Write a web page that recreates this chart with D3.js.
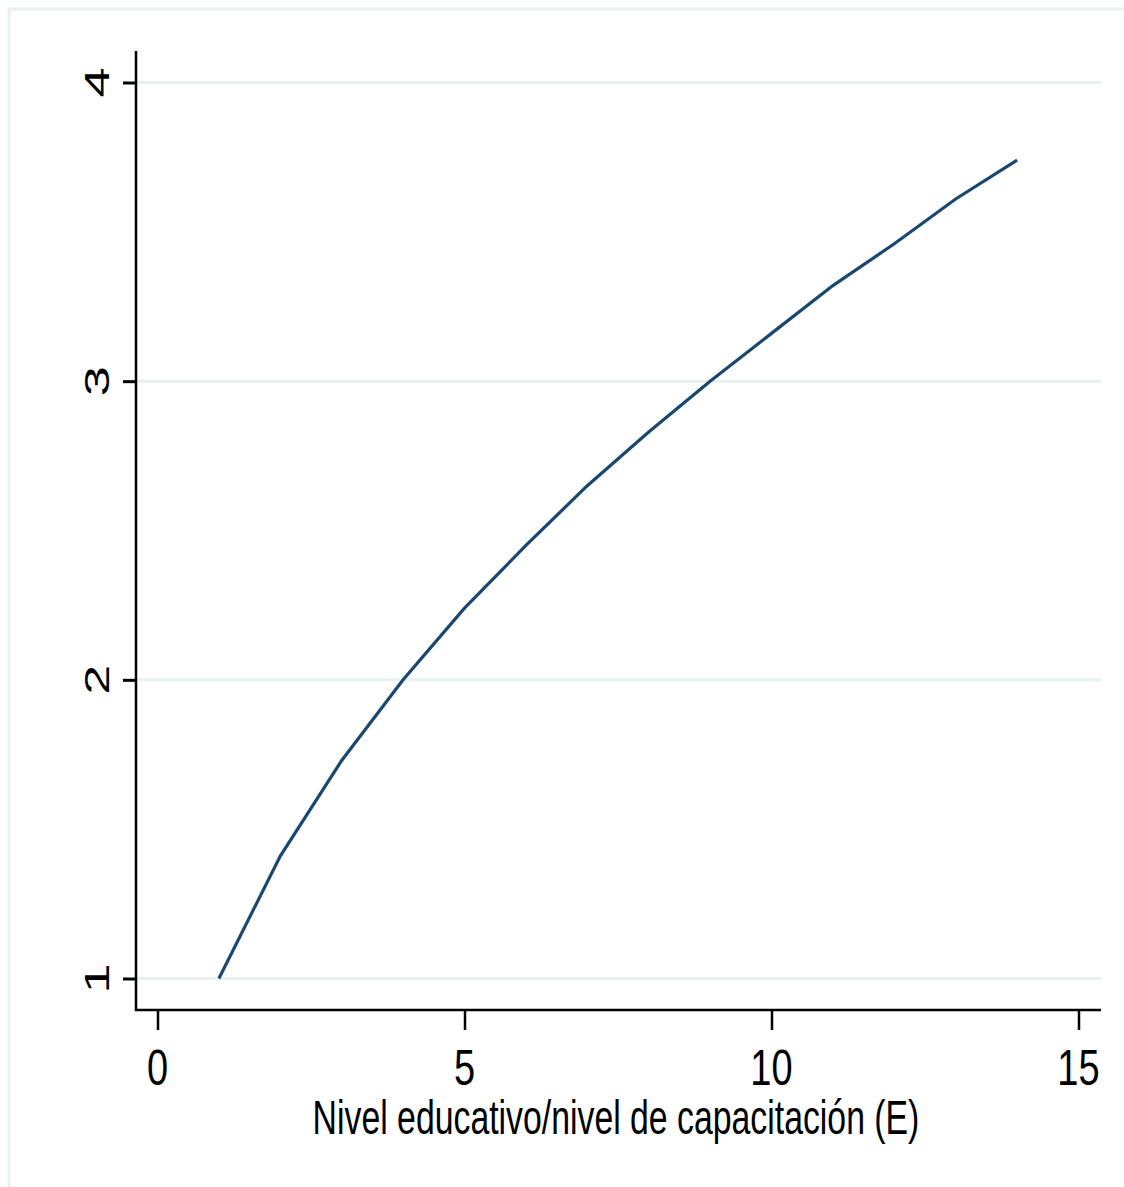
<!DOCTYPE html>
<html>
<head>
<meta charset="utf-8">
<script src="https://cdn.jsdelivr.net/npm/d3@7"></script>
<style>
  body { margin: 0; background: #fff; }
  text { font-family: "Liberation Sans", Arial, sans-serif; fill: #000; }
</style>
</head>
<body>
<div id="chart"></div>
<script>
// education level vs value
var levels = [1, 2, 3, 4, 5, 6, 7, 8, 9, 10, 11, 12, 13, 14];
var values = [1, 1.41, 1.73, 2, 2.24, 2.45, 2.65, 2.83, 3, 3.16, 3.32, 3.46, 3.61, 3.74];
var xTicks = [0, 5, 10, 15];
var yTicks = [1, 2, 3, 4];
var xTitle = "Nivel educativo/nivel de capacitación (E)";

var W = 1124, H = 1187;
var svg = d3.select("#chart").append("svg")
            .attr("width", W)
            .attr("height", H);

// outer frame (only top and left visible)
svg.append("rect")
   .attr("x", 9).attr("y", 9)
   .attr("width", 1300).attr("height", 1400)
   .attr("fill", "none")
   .attr("stroke", "#e9f0f2")
   .attr("stroke-width", 3);

var plotL = 136, plotR = 1101, plotT = 51, plotB = 1010;

var xScale = d3.scaleLinear().domain([0, 15]).range([157.5, 1078.5]);
var yScale = d3.scaleLinear().domain([1, 4]).range([978.5, 82.5]);

// grid
svg.selectAll("line.grid")
   .data(yTicks)
   .enter()
   .append("line")
   .attr("class", "grid")
   .attr("x1", plotL).attr("x2", plotR)
   .attr("y1", function(d){ return yScale(d); })
   .attr("y2", function(d){ return yScale(d); })
   .attr("stroke", "#e9f0f2")
   .attr("stroke-width", 3);

// y axis
var yAxis = d3.axisLeft(yScale).tickValues(yTicks).tickSize(13).tickFormat("");
var gy = svg.append("g")
   .attr("transform", "translate(" + plotL + ",0)")
   .call(yAxis);
gy.select(".domain").remove();
gy.selectAll(".tick line").attr("stroke", "#000").attr("stroke-width", 3);
svg.append("line")
   .attr("x1", plotL).attr("x2", plotL)
   .attr("y1", plotT).attr("y2", plotB + 1)
   .attr("stroke", "#000").attr("stroke-width", 2.5);

svg.selectAll("text.ylab")
   .data(yTicks)
   .enter()
   .append("text")
   .attr("class", "ylab")
   .attr("transform", function(d){ return "translate(109," + yScale(d) + ") scale(0.64,1) rotate(-90)"; })
   .attr("text-anchor", "middle")
   .attr("font-size", 54)
   .text(function(d){ return d; });

// x axis
var xAxis = d3.axisBottom(xScale).tickValues(xTicks).tickSize(20).tickFormat("");
var gx = svg.append("g")
   .attr("transform", "translate(0," + plotB + ")")
   .call(xAxis);
gx.select(".domain").remove();
gx.selectAll(".tick line").attr("stroke", "#000").attr("stroke-width", 2.5);
svg.append("line")
   .attr("x1", plotL - 1).attr("x2", plotR)
   .attr("y1", plotB).attr("y2", plotB)
   .attr("stroke", "#000").attr("stroke-width", 2.5);

svg.selectAll("text.xlab")
   .data(xTicks)
   .enter()
   .append("text")
   .attr("class", "xlab")
   .attr("transform", function(d){ return "translate(" + xScale(d) + ",1085) scale(0.76,1)"; })
   .attr("text-anchor", "middle")
   .attr("font-size", 50)
   .text(function(d){ return d; });

svg.append("text")
   .attr("transform", "translate(616,1134) scale(0.69,1)")
   .attr("text-anchor", "middle")
   .attr("font-size", 49)
   .text(xTitle);

// the curve
var line = d3.line()
   .x(function(d, i){ return xScale(levels[i]); })
   .y(function(d){ return yScale(d); });

svg.append("path")
   .datum(values)
   .attr("d", line)
   .attr("fill", "none")
   .attr("stroke", "#1a476f")
   .attr("stroke-width", 3.2);
</script>
</body>
</html>
